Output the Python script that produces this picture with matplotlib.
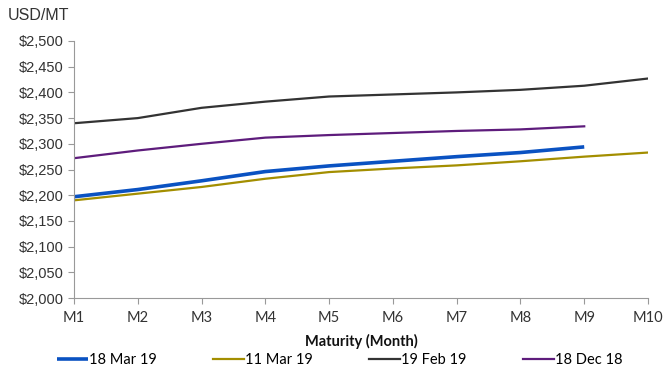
import matplotlib
matplotlib.use("Agg")
import matplotlib.pyplot as plt
from matplotlib.ticker import FuncFormatter

categories = ["M1", "M2", "M3", "M4", "M5", "M6", "M7", "M8", "M9", "M10"]
mar18 = [2197, 2211, 2228, 2246, 2257, 2266, 2275, 2283, 2294]
mar11 = [2190, 2203, 2216, 2232, 2245, 2252, 2258, 2266, 2275, 2283]
feb19 = [2340, 2350, 2370, 2382, 2392, 2396, 2400, 2405, 2413, 2427]
dec18 = [2272, 2287, 2300, 2312, 2317, 2321, 2325, 2328, 2334]
labels = ["18 Mar 19", "11 Mar 19", "19 Feb 19", "18 Dec 18"]

fig = plt.figure(figsize=(6.64, 3.72), dpi=100)
ax = fig.add_axes([74/664, 1-298/372, (648-74)/664, (298-41)/372])

x = list(range(len(categories)))
ax.plot(x[:len(mar18)], mar18, color="#0A52C2", lw=2.6, label=labels[0], solid_capstyle="butt")
ax.plot(x[:len(mar11)], mar11, color="#A38E00", lw=1.6, label=labels[1])
ax.plot(x[:len(feb19)], feb19, color="#333333", lw=1.6, label=labels[2])
ax.plot(x[:len(dec18)], dec18, color="#5E1C7C", lw=1.6, label=labels[3])

ax.set_xlim(0, len(categories)-1)
ax.set_ylim(2000, 2500)
ax.set_yticks(range(2000, 2501, 50))
ax.yaxis.set_major_formatter(FuncFormatter(lambda v, p: "${:,.0f}".format(v)))
ax.set_xticks(x)
ax.set_xticklabels(categories, family="Lato", fontsize=10.5, color="#222222")
for t in ax.get_yticklabels():
    t.set_family("Liberation Sans"); t.set_fontsize(10.5); t.set_color("#333333")
for s in ["top", "right"]:
    ax.spines[s].set_visible(False)
for s in ["left", "bottom"]:
    ax.spines[s].set_color("#999999")
ax.tick_params(axis="both", colors="#999999", length=4, width=0.8, labelcolor="#333333")
ax.tick_params(axis="x", pad=5)
ax.set_xlabel("Maturity (Month)", family="Lato", fontweight="bold", fontsize=10.5, color="#111111", labelpad=7)
fig.text(8/664, 1-16/372, "USD/MT", family="Liberation Sans", fontsize=11.5, color="#333333", va="center")

leg = fig.legend(loc="center", bbox_to_anchor=(0.512, 1-360/372), ncol=4, frameon=False,
                 prop={"family": "Lato", "size": 10.5}, handlelength=2.1, handletextpad=0.1,
                 columnspacing=3.85)
fig.savefig("out.png", dpi=100)
